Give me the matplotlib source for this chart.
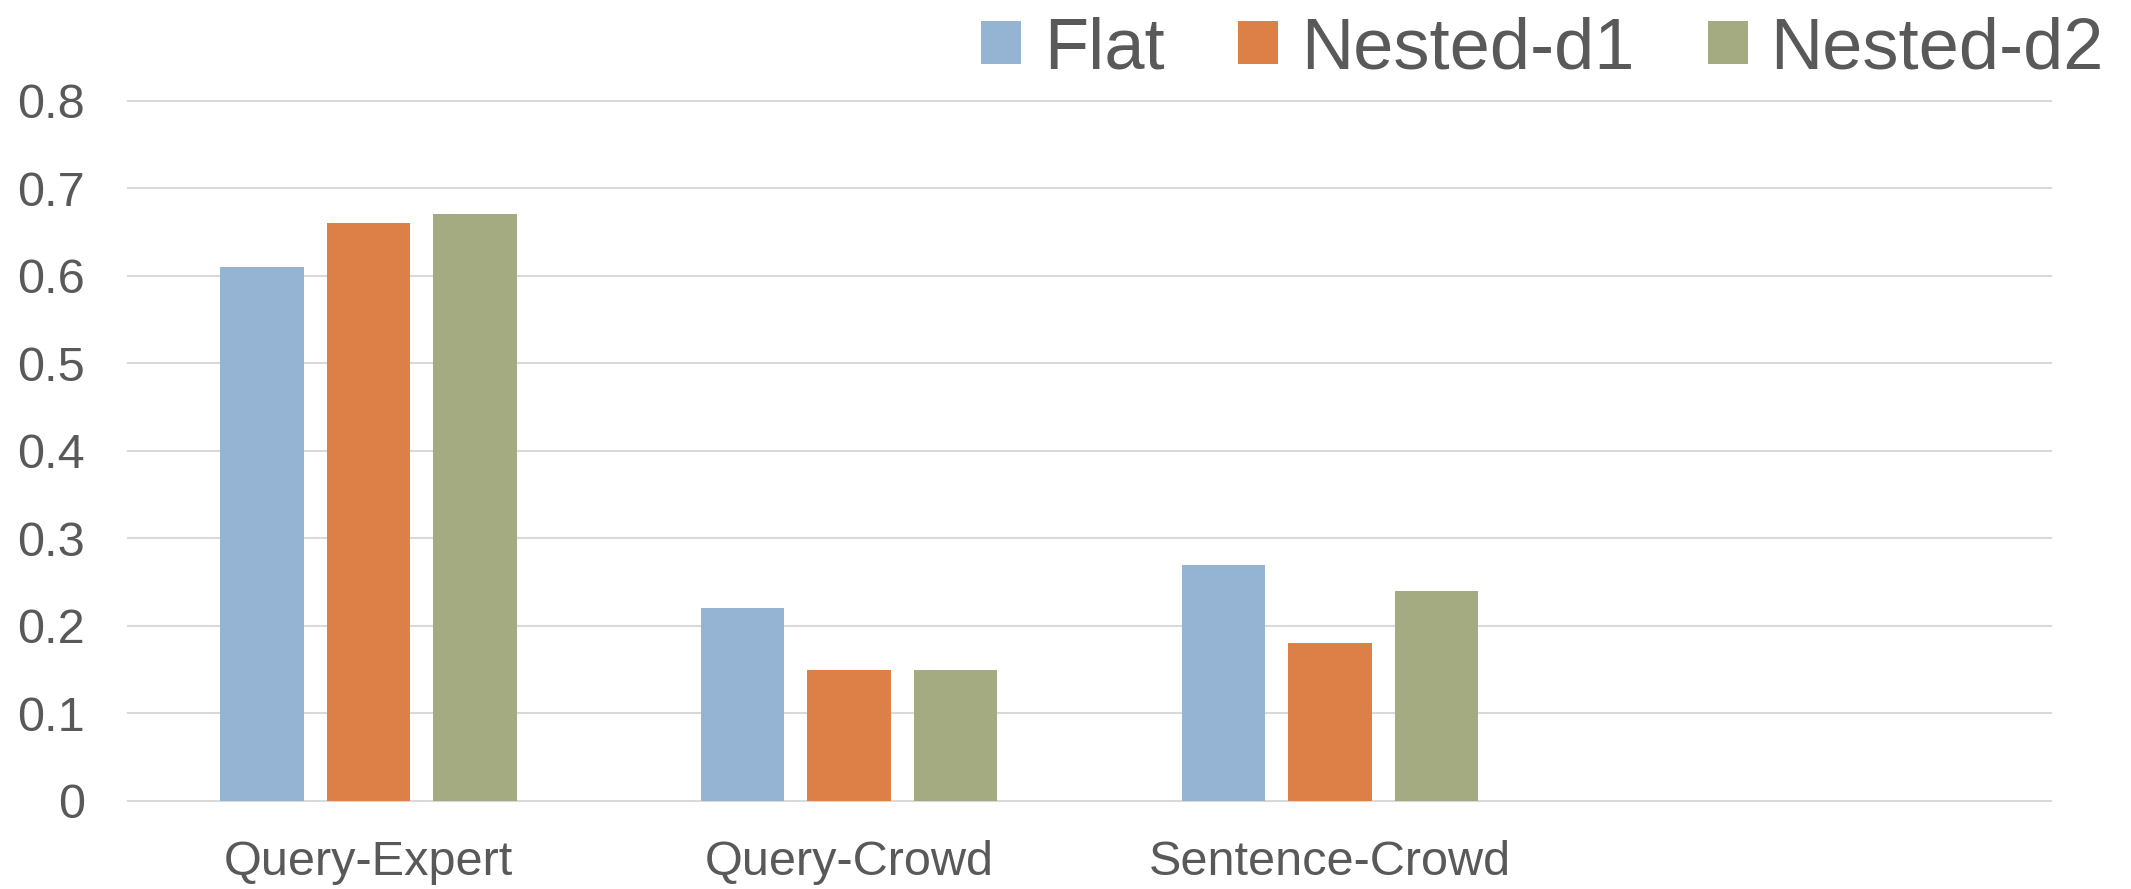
import matplotlib
matplotlib.use("Agg")
import matplotlib.pyplot as plt
import numpy as np

# Data
categories = ["Query-Expert", "Query-Crowd", "Sentence-Crowd", ""]
series_names = ["Flat", "Nested-d1", "Nested-d2"]
flat = [0.61, 0.22, 0.27]
nested_d1 = [0.66, 0.15, 0.18]
nested_d2 = [0.67, 0.15, 0.24]
y_ticks = [0, 0.1, 0.2, 0.3, 0.4, 0.5, 0.6, 0.7, 0.8]
y_tick_labels = ["0", "0.1", "0.2", "0.3", "0.4", "0.5", "0.6", "0.7", "0.8"]

colors = ["#95B4D3", "#DD8047", "#A5AB81"]
text_color = "#595959"
grid_color = "#D9D9D9"

plt.rcParams["font.family"] = ["Liberation Sans", "DejaVu Sans"]

W, H = 2131, 889
fig = plt.figure(figsize=(W / 100, H / 100), dpi=100)
ax = fig.add_axes([128 / W, 1 - 801 / H, (2051 - 128) / W, 700.3 / H])

x = np.arange(len(categories))
bar_w = 0.1737
pitch = 0.2215
all_series = [flat, nested_d1, nested_d2]
n_filled = len(flat)
for i, (vals, name, c) in enumerate(zip(all_series, series_names, colors)):
    ax.bar(x[:n_filled] + (i - 1) * pitch, vals, width=bar_w, color=c,
           label=name, zorder=3, linewidth=0)

ax.set_xlim(-0.5, len(categories) - 0.5)
ax.set_ylim(0, 0.8)
ax.set_xticks(x)
ax.set_xticklabels(categories)
ax.set_yticks(y_ticks)
ax.set_yticklabels(y_tick_labels)

for s in ax.spines.values():
    s.set_visible(False)
ax.yaxis.grid(True, color=grid_color, linewidth=1.5, zorder=0)
ax.set_axisbelow(True)
for gl in ax.get_ygridlines():
    gl.set_clip_on(False)

ax.tick_params(axis="both", length=0, labelsize=35, colors=text_color)
ax.tick_params(axis="y", pad=31)
ax.tick_params(axis="x", pad=28)

leg = fig.legend(loc="upper right", bbox_to_anchor=(2104 / W, 0.982),
                 ncol=3, frameon=False, fontsize=52,
                 handlelength=0.55, handleheight=0.55, handletextpad=0.32,
                 columnspacing=1.02, borderpad=0, borderaxespad=0)
for t in leg.get_texts():
    t.set_color(text_color)

fig.savefig("out.png", dpi=100, facecolor="white")
